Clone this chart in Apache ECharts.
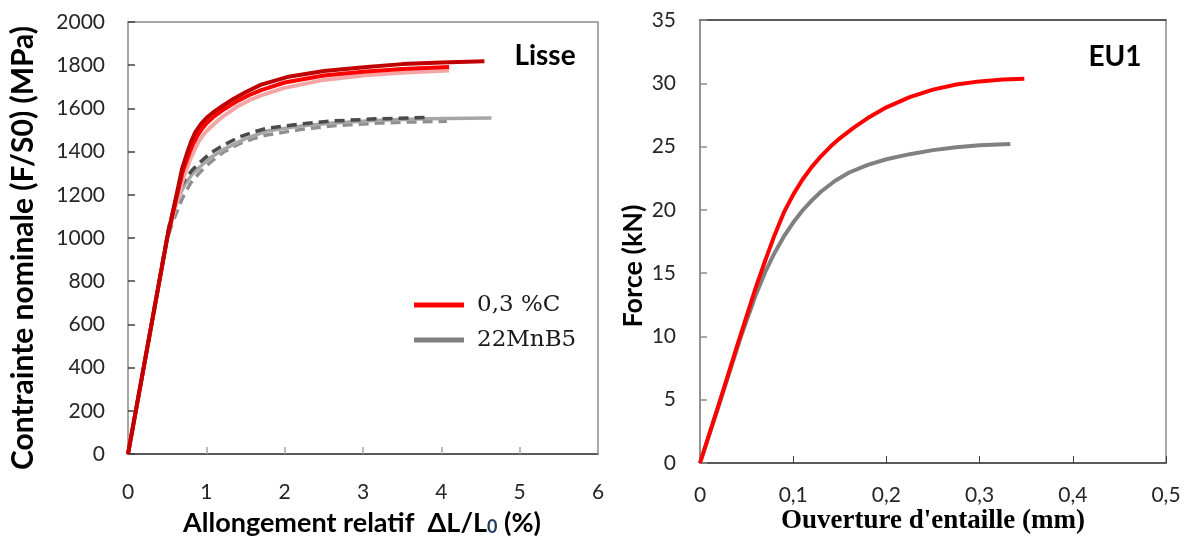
<!DOCTYPE html>
<html>
<head>
<meta charset="utf-8">
<script src="https://cdn.jsdelivr.net/npm/echarts@6/dist/echarts.min.js"></script>
<style>
html,body{margin:0;padding:0;background:#fff;}
#chart{width:1186px;height:540px;}
</style>
</head>
<body>
<div id="chart"></div>
<script>
// ---- Left panel (Lisse): strain (%) vs nominal stress (MPa)
const darkRedX  = [0, 0.25, 0.5, 0.62, 0.69, 0.76, 0.81, 0.86, 0.93, 1.0, 1.1, 1.2, 1.35, 1.5, 1.7, 2.03, 2.5, 3.05, 3.5, 4.0, 4.55];
const darkRedY  = [0, 500, 1000, 1200, 1320, 1400, 1450, 1490, 1527, 1555, 1585, 1610, 1645, 1675, 1710, 1745, 1773, 1792, 1805, 1813, 1818];
const redX      = [0, 0.25, 0.5, 0.62, 0.7, 0.78, 0.83, 0.88, 0.94, 1.0, 1.1, 1.2, 1.4, 1.55, 1.7, 2.0, 2.5, 3.0, 3.5, 4.1];
const redY      = [0, 500, 1000, 1190, 1310, 1390, 1435, 1470, 1503, 1530, 1563, 1590, 1635, 1662, 1685, 1720, 1752, 1770, 1782, 1792];
const pinkX     = [0, 0.25, 0.5, 0.63, 0.72, 0.8, 0.9, 0.97, 1.05, 1.2, 1.4, 1.55, 1.7, 2.0, 2.5, 3.0, 3.5, 4.1];
const pinkY     = [0, 500, 1000, 1180, 1290, 1370, 1445, 1482, 1512, 1560, 1610, 1638, 1660, 1695, 1732, 1752, 1765, 1775];
const dkGreyX   = [0, 0.3, 0.52, 0.6, 0.66, 0.73, 0.82, 0.92, 1.05, 1.22, 1.43, 1.6, 1.77, 2.2, 2.62, 3.2, 3.86];
const dkGreyY   = [0, 600, 1050, 1160, 1225, 1272, 1315, 1350, 1393, 1430, 1469, 1490, 1508, 1528, 1542, 1552, 1558];
const ltGreyX   = [0, 0.3, 0.52, 0.6, 0.66, 0.73, 0.82, 0.92, 1.05, 1.22, 1.5, 1.77, 2.2, 2.62, 3.2, 3.8, 4.64];
const ltGreyY   = [0, 600, 1040, 1140, 1200, 1250, 1295, 1330, 1372, 1410, 1460, 1495, 1518, 1532, 1545, 1552, 1556];
const mdGreyX   = [0, 0.3, 0.5, 0.6, 0.66, 0.71, 0.8, 0.92, 1.05, 1.22, 1.43, 1.6, 1.77, 2.2, 2.62, 3.2, 3.6, 4.07];
const mdGreyY   = [0, 600, 1000, 1100, 1155, 1195, 1255, 1305, 1350, 1398, 1438, 1460, 1477, 1502, 1520, 1532, 1537, 1540];

// ---- Right panel (EU1): notch opening (mm) vs force (kN)
const eu1RedX  = [0, 0.02, 0.04, 0.06, 0.07, 0.08, 0.09, 0.1, 0.11, 0.12, 0.13, 0.14, 0.15, 0.165, 0.18, 0.2, 0.225, 0.25, 0.275, 0.3, 0.325, 0.348];
const eu1RedY  = [0, 4.6, 9.3, 13.9, 16.0, 18.0, 19.8, 21.2, 22.4, 23.4, 24.25, 25.0, 25.65, 26.5, 27.25, 28.1, 28.9, 29.5, 29.9, 30.15, 30.3, 30.35];
const eu1GreyX = [0, 0.02, 0.044, 0.06, 0.07, 0.08, 0.09, 0.1, 0.11, 0.12, 0.13, 0.145, 0.16, 0.18, 0.2, 0.225, 0.25, 0.275, 0.3, 0.333];
const eu1GreyY = [0, 4.5, 10, 13.3, 15.1, 16.6, 17.9, 19.0, 19.95, 20.75, 21.45, 22.3, 22.95, 23.55, 24.0, 24.4, 24.72, 24.95, 25.1, 25.2];

// ---- Labels
const legendNames = ['0,3 %C', '22MnB5'];
const leftYTitle = 'Contrainte nominale (F/S0) (MPa)';
const rightYTitle = 'Force (kN)';
const rightXTitle = "Ouverture d'entaille (mm)";

const zip = (xs, ys) => xs.map((x, i) => [x, ys[i]]);

const tickFont = {fontFamily: 'Lato', fontSize: 21, color: '#262626'};

function line(name, xi, yi, xs, ys, color, width, type) {
  return {
    name, type: 'line', xAxisIndex: xi, yAxisIndex: yi,
    data: zip(xs, ys), showSymbol: false, symbol: 'none',
    smooth: false,
    lineStyle: {color, width, type: type || 'solid', cap: 'butt', join: 'round'},
    itemStyle: {color}, silent: true, animation: false
  };
}

const chart = echarts.init(document.getElementById('chart'), null, {renderer: 'canvas'});
chart.setOption({
  backgroundColor: '#fff',
  animation: false,
  grid: [
    {left: 128, top: 22, width: 470, height: 432, show: true, borderColor: '#8c8c8c', borderWidth: 1.5},
    {left: 700, top: 20, width: 466, height: 443, show: true, borderColor: '#8c8c8c', borderWidth: 1.5}
  ],
  xAxis: [
    {type: 'value', gridIndex: 0, min: 0, max: 6, interval: 1,
     axisLine: {lineStyle: {color: '#404040', width: 1.5}},
     axisTick: {inside: true, length: 7, lineStyle: {color: '#a6a6a6', width: 1.5}},
     axisLabel: Object.assign({margin: 28}, tickFont),
     splitLine: {show: false}},
    {type: 'value', gridIndex: 1, min: 0, max: 0.5, interval: 0.1,
     axisLine: {lineStyle: {color: '#404040', width: 1.5}},
     axisTick: {inside: true, length: 7, lineStyle: {color: '#404040', width: 1}},
     axisLabel: Object.assign({margin: 22, formatter: v => v === 0 ? '0' : v.toFixed(1).replace('.', ',')}, tickFont),
     splitLine: {show: false}},
    {type: 'value', gridIndex: 1, position: 'top', min: 0, max: 0.5,
     axisLine: {lineStyle: {color: '#404040', width: 1.5}},
     axisTick: {show: false}, axisLabel: {show: false}, splitLine: {show: false}}
  ],
  yAxis: [
    {type: 'value', gridIndex: 0, min: 0, max: 2000, interval: 200,
     axisLine: {show: true, lineStyle: {color: '#a6a6a6', width: 2}},
     axisTick: {show: true, inside: true, length: 7, lineStyle: {color: '#404040', width: 1.5}},
     axisLabel: Object.assign({margin: 23, formatter: v => String(v)}, tickFont),
     splitLine: {show: false}},
    {type: 'value', gridIndex: 1, min: 0, max: 35, interval: 5,
     axisLine: {show: true, lineStyle: {color: '#8c8c8c', width: 1.5}},
     axisTick: {show: true, inside: true, length: 7, lineStyle: {color: '#8c8c8c', width: 1.5}},
     axisLabel: Object.assign({margin: 24, formatter: v => String(v)}, tickFont),
     splitLine: {show: false}}
  ],
  legend: {
    orient: 'vertical', left: 409, top: 288,
    itemWidth: 50, itemHeight: 5, itemGap: 11,
    textStyle: {fontFamily: 'DejaVu Serif', fontSize: 23, color: '#1a1a1a', lineHeight: 24, padding: [0, 0, 0, 8]},
    data: [
      {name: legendNames[0], icon: 'rect', itemStyle: {color: '#ff0000'}},
      {name: legendNames[1], icon: 'rect', itemStyle: {color: '#808080'}}
    ],
    selectedMode: false
  },
  series: [
    line(legendNames[1], 0, 0, mdGreyX, mdGreyY, '#8f8f8f', 3.5, [10, 6]),
    line(legendNames[1], 0, 0, ltGreyX, ltGreyY, '#a6a6a6', 3.5),
    line(legendNames[1], 0, 0, dkGreyX, dkGreyY, '#4a4a4a', 3.5, [10, 6]),
    line(legendNames[0], 0, 0, pinkX, pinkY, '#f4a6a6', 4),
    line(legendNames[0], 0, 0, redX, redY, '#ff0000', 4),
    line(legendNames[0], 0, 0, darkRedX, darkRedY, '#c00000', 4),
    line('EU1 22MnB5', 1, 1, eu1GreyX, eu1GreyY, '#808080', 4),
    line('EU1 0,3 %C', 1, 1, eu1RedX, eu1RedY, '#ff0000', 4)
  ],
  graphic: [
    {type: 'text', x: 23, y: 248, rotation: Math.PI / 2, silent: true,
     style: {text: leftYTitle, font: 'bold 30px Lato', fill: '#000', align: 'center', verticalAlign: 'middle'}},
    {type: 'text', x: 362, y: 523, silent: true,
     style: {text: '{t|Allongement relatif  ΔL/L}{s|0}{t| (%)}', align: 'center', verticalAlign: 'middle',
             rich: {t: {font: 'bold 27px Lato', fill: '#000'}, s: {font: 'bold 18px Lato', fill: '#1f3a5f', padding: [9, 0, 0, 0]}}}},
    {type: 'text', x: 545, y: 56, silent: true,
     style: {text: 'Lisse', font: 'bold 28px Lato', fill: '#000', align: 'center', verticalAlign: 'middle'}},
    {type: 'text', x: 633, y: 266, rotation: Math.PI / 2, silent: true,
     style: {text: rightYTitle, font: 'bold 27px Lato', fill: '#000', align: 'center', verticalAlign: 'middle'}},
    {type: 'text', x: 933, y: 521, silent: true,
     style: {text: rightXTitle, font: 'bold 27px "Liberation Serif"', fill: '#000', align: 'center', verticalAlign: 'middle'}},
    {type: 'text', x: 1115, y: 57, silent: true,
     style: {text: 'EU1', font: 'bold 28px Lato', fill: '#000', align: 'center', verticalAlign: 'middle'}}
  ]
});
</script>
</body>
</html>
